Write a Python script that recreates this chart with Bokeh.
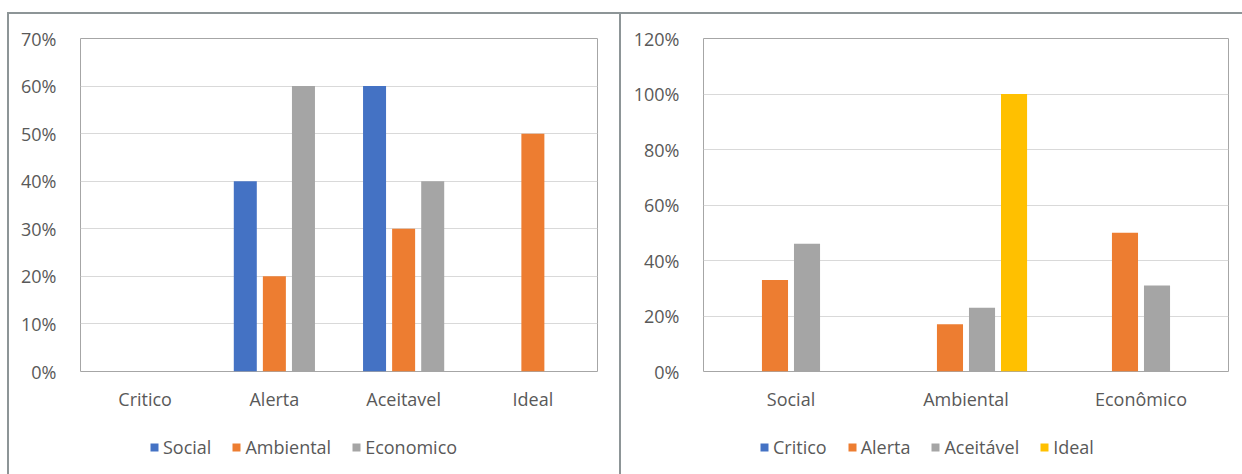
from bokeh.plotting import figure
from bokeh.models import (FixedTicker, NumeralTickFormatter, Legend, LegendItem, ColumnDataSource)
from bokeh.transform import dodge
from bokeh.layouts import row, column
from bokeh.embed import file_html
from bokeh.resources import INLINE

# ---- data ----
left_cats = ["Critico", "Alerta", "Aceitavel", "Ideal"]
left_social = [0.0, 0.40, 0.60, 0.0]
left_ambiental = [0.0, 0.20, 0.30, 0.50]
left_economico = [0.0, 0.60, 0.40, 0.0]
left_series = ["Social", "Ambiental", "Economico"]
left_ticks = [0, 0.1, 0.2, 0.3, 0.4, 0.5, 0.6, 0.7]

right_cats = ["Social", "Ambiental", "Econômico"]
right_critico = [0.0, 0.0, 0.0]
right_alerta = [0.33, 0.17, 0.50]
right_aceitavel = [0.46, 0.23, 0.31]
right_ideal = [0.0, 1.00, 0.0]
right_series = ["Critico", "Alerta", "Aceitável", "Ideal"]
right_ticks = [0, 0.2, 0.4, 0.6, 0.8, 1.0, 1.2]

COLORS = ["#4472C4", "#ED7D31", "#A5A5A5", "#FFC000"]
FONT = "Open Sans"
TXT = "#595959"
BORDER = "#8D9597"


def make_chart(cats, values, ticks, ymax, width, height, mb, step, bw, styles, margin):
    p = figure(x_range=cats, y_range=(0, ymax), width=width, height=height,
               output_backend="svg", toolbar_location=None,
               min_border_left=mb[0], min_border_right=mb[1],
               min_border_top=mb[2], min_border_bottom=mb[3],
               background_fill_color="white", border_fill_color="white",
               styles=styles, margin=margin)
    data = {"cat": cats}
    for i, v in enumerate(values):
        data["s%d" % i] = v
    src = ColumnDataSource(data)
    n = len(values)
    for i in range(n):
        off = (i - (n - 1) / 2) * step
        p.vbar(x=dodge("cat", off, range=p.x_range), top="s%d" % i, width=bw,
               source=src, fill_color=COLORS[i], line_color=None)
    p.yaxis.ticker = FixedTicker(ticks=ticks)
    p.yaxis.formatter = NumeralTickFormatter(format="0%")
    for ax in (p.xaxis[0], p.yaxis[0]):
        ax.major_tick_line_color = None
        ax.minor_tick_line_color = None
        ax.axis_line_color = None
        ax.major_label_text_font = FONT
        ax.major_label_text_font_size = "18px"
        ax.major_label_text_color = TXT
    p.yaxis.major_label_standoff = 18
    p.xaxis.major_label_standoff = 9
    p.xgrid.grid_line_color = None
    p.ygrid.ticker = FixedTicker(ticks=ticks)
    p.ygrid.grid_line_color = "#D9D9D9"
    p.ygrid.grid_line_width = 1
    p.outline_line_color = "#A6A6A6"
    p.outline_line_width = 1
    return p


def make_legend(names, width, height, lx, ly, styles, margin):
    p = figure(x_range=(0, 1), y_range=(0, 1), width=width, height=height,
               output_backend="svg", toolbar_location=None,
               x_axis_location=None, y_axis_location=None,
               min_border=0, background_fill_color="white", border_fill_color="white",
               styles=styles, margin=margin)
    p.grid.grid_line_color = None
    p.outline_line_color = None
    items = []
    for i, nm in enumerate(names):
        # zero-height swatch renderer (only used for the legend key)
        r = p.vbar(x=[0.5], top=[0], bottom=[0], width=0.1, fill_color=COLORS[i], line_color=None)
        items.append(LegendItem(label=nm, renderers=[r]))
    lg = Legend(items=items, orientation="horizontal", location=(lx, ly),
                label_text_font=FONT, label_text_font_size="18px",
                label_text_color=TXT, glyph_width=10, glyph_height=10,
                label_height=20, label_standoff=4, spacing=20, padding=0,
                margin=0, border_line_color=None, background_fill_alpha=0)
    p.add_layout(lg, "center")
    return p


c1 = make_chart(left_cats, [left_social, left_ambiental, left_economico],
                left_ticks, 0.7, 614, 413, (71, 26, 24, 56), 0.225, 0.178,
                {"border-left": "2px solid " + BORDER, "border-top": "2px solid " + BORDER,
                 "border-right": "2px solid " + BORDER, "box-sizing": "border-box"},
                (12, 0, 0, 7))
l1 = make_legend(left_series, 614, 49, 69, 15,
                 {"border-left": "2px solid " + BORDER, "border-right": "2px solid " + BORDER,
                  "box-sizing": "border-box"}, (0, 0, 0, 7))
c2 = make_chart(right_cats, [right_critico, right_alerta, right_aceitavel, right_ideal],
                right_ticks, 1.2, 621, 413, (82, 14, 24, 56), 0.183, 0.149,
                {"border-top": "2px solid " + BORDER, "box-sizing": "border-box"},
                (12, 0, 0, 0))
l2 = make_legend(right_series, 621, 49, 56, 15, {}, (0, 0, 0, 0))

layout = row(column(c1, l1, spacing=0, margin=0), column(c2, l2, spacing=0, margin=0),
             margin=0, spacing=0)
open("out.html", "w").write(file_html(layout, INLINE))
